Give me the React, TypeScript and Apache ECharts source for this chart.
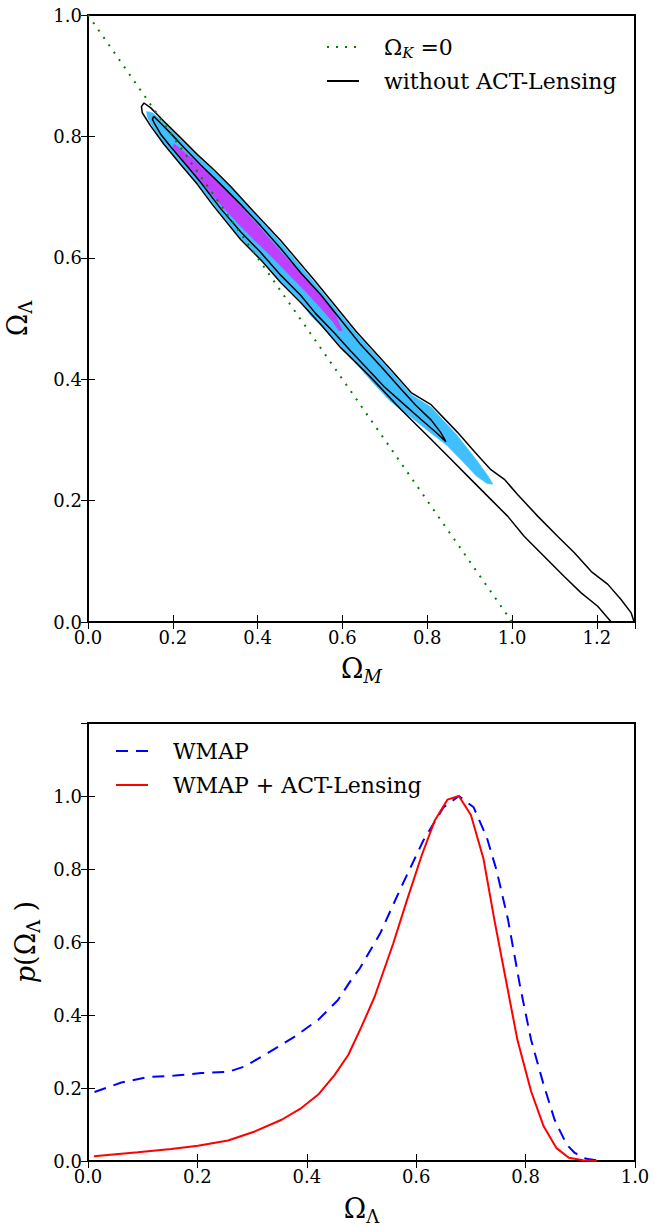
import React, { useEffect, useRef } from "react";
import * as echarts from "echarts";

// ---------------- Top panel data (Ω_M, Ω_Λ) ----------------
const flatUniverseLine: number[][] = [
  [0, 1],
  [1, 0],
];

// black contours: "without ACT-Lensing" (95% open at the axis, 68% closed)
const outerNoLensing: number[][] = [
  [1.234, 0.0], [1.202, 0.026], [1.163, 0.048], [1.123, 0.075], [1.076, 0.108], [1.029, 0.141],
  [0.99, 0.174], [0.95, 0.202], [0.903, 0.235], [0.856, 0.268], [0.809, 0.301], [0.738, 0.35],
  [0.667, 0.403], [0.596, 0.452], [0.549, 0.49], [0.502, 0.526], [0.455, 0.559], [0.407, 0.597],
  [0.36, 0.63], [0.293, 0.688], [0.258, 0.721], [0.218, 0.754], [0.179, 0.787], [0.148, 0.817],
  [0.128, 0.839], [0.126, 0.849], [0.132, 0.855], [0.148, 0.847], [0.179, 0.825], [0.218, 0.798],
  [0.258, 0.77], [0.297, 0.745], [0.336, 0.718], [0.391, 0.676], [0.455, 0.628], [0.533, 0.564],
  [0.632, 0.479], [0.714, 0.416], [0.762, 0.378], [0.809, 0.358], [0.872, 0.312], [0.911, 0.281],
  [0.95, 0.251], [0.982, 0.235], [1.013, 0.21], [1.061, 0.174], [1.108, 0.141], [1.147, 0.114],
  [1.187, 0.083], [1.226, 0.062], [1.257, 0.037], [1.281, 0.015], [1.288, 0.0],
];

const innerNoLensing: number[][] = [
  [0.155, 0.833], [0.171, 0.822], [0.195, 0.805], [0.23, 0.779], [0.266, 0.753], [0.313, 0.721],
  [0.36, 0.688], [0.407, 0.653], [0.455, 0.615], [0.502, 0.575], [0.549, 0.539], [0.596, 0.498],
  [0.643, 0.457], [0.691, 0.421], [0.738, 0.384], [0.773, 0.357], [0.809, 0.333], [0.832, 0.312],
  [0.844, 0.297], [0.823, 0.311], [0.785, 0.334], [0.738, 0.363], [0.698, 0.388], [0.655, 0.42],
  [0.62, 0.446], [0.58, 0.477], [0.537, 0.508], [0.502, 0.538], [0.455, 0.571], [0.407, 0.609],
  [0.36, 0.643], [0.313, 0.681], [0.266, 0.724], [0.23, 0.754], [0.195, 0.783], [0.171, 0.804],
  [0.157, 0.821], [0.152, 0.828], [0.155, 0.833],
];

// filled regions: with ACT-Lensing (95% cyan, 68% purple)
const lensing95: number[][] = [
  [0.138, 0.841], [0.152, 0.839], [0.183, 0.821], [0.218, 0.795], [0.259, 0.767], [0.299, 0.742],
  [0.339, 0.716], [0.391, 0.674], [0.455, 0.625], [0.532, 0.561], [0.632, 0.476], [0.714, 0.413],
  [0.762, 0.375], [0.809, 0.354], [0.87, 0.308], [0.915, 0.268], [0.943, 0.241], [0.955, 0.227],
  [0.941, 0.228], [0.915, 0.241], [0.884, 0.264], [0.846, 0.291], [0.809, 0.311], [0.762, 0.337],
  [0.714, 0.363], [0.667, 0.398], [0.62, 0.436], [0.573, 0.472], [0.525, 0.505], [0.502, 0.528],
  [0.455, 0.561], [0.407, 0.599], [0.36, 0.632], [0.294, 0.689], [0.259, 0.722], [0.218, 0.755],
  [0.178, 0.788], [0.152, 0.816], [0.14, 0.831],
];

const lensing68: number[][] = [
  [0.203, 0.788], [0.242, 0.766], [0.273, 0.746], [0.313, 0.721], [0.352, 0.691], [0.391, 0.661],
  [0.431, 0.629], [0.471, 0.597], [0.509, 0.569], [0.54, 0.545], [0.566, 0.525], [0.584, 0.505],
  [0.6, 0.48], [0.592, 0.48], [0.577, 0.495], [0.544, 0.521], [0.511, 0.546], [0.483, 0.566],
  [0.455, 0.586], [0.421, 0.61], [0.391, 0.63], [0.36, 0.652], [0.336, 0.67], [0.308, 0.691],
  [0.282, 0.713], [0.256, 0.733], [0.235, 0.751], [0.214, 0.77], [0.2, 0.783],
];

// ---------------- Bottom panel data: p(Ω_Λ) ----------------
const wmapX = [
  0.012, 0.061, 0.11, 0.159, 0.207, 0.256, 0.286, 0.329, 0.378, 0.421, 0.457, 0.481, 0.497, 0.534,
  0.57, 0.613, 0.65, 0.678, 0.705, 0.729, 0.747, 0.768, 0.79, 0.81, 0.832, 0.853, 0.875, 0.89, 0.911, 0.93,
];
const wmapP = [
  0.189, 0.215, 0.23, 0.234, 0.241, 0.244, 0.259, 0.296, 0.341, 0.387, 0.441, 0.496, 0.528, 0.623,
  0.742, 0.878, 0.969, 1.0, 0.969, 0.887, 0.796, 0.66, 0.478, 0.332, 0.214, 0.113, 0.045, 0.022, 0.006, 0.002,
];
const lensX = [
  0.011, 0.091, 0.152, 0.201, 0.256, 0.305, 0.354, 0.39, 0.421, 0.451, 0.476, 0.5, 0.524, 0.558,
  0.583, 0.61, 0.634, 0.657, 0.678, 0.7, 0.723, 0.743, 0.764, 0.785, 0.81, 0.833, 0.856, 0.879, 0.905, 0.93,
];
const lensP = [
  0.013, 0.024, 0.033, 0.042, 0.056, 0.081, 0.113, 0.145, 0.182, 0.236, 0.291, 0.368, 0.45, 0.596,
  0.714, 0.837, 0.933, 0.99, 1.0, 0.948, 0.828, 0.66, 0.496, 0.332, 0.191, 0.095, 0.036, 0.009, 0.002, 0.0,
];

const FONT = "DejaVu Serif";

const nameRich = {
  o: { fontFamily: FONT, fontSize: 27, color: "#000", lineHeight: 34, verticalAlign: "middle" },
  s: { fontFamily: FONT, fontSize: 18, color: "#000", lineHeight: 18, verticalAlign: "bottom" },
  si: { fontFamily: FONT, fontSize: 18, color: "#000", lineHeight: 18, verticalAlign: "bottom", fontStyle: "italic" },
  i: { fontFamily: FONT, fontSize: 27, color: "#000", lineHeight: 34, verticalAlign: "middle", fontStyle: "italic" },
};

const tick = { show: true, inside: true, length: 7, lineStyle: { color: "#000", width: 1 } };
const label = {
  show: true,
  fontFamily: FONT,
  fontSize: 18,
  color: "#000",
  margin: 6,
  showMaxLabel: false,
  formatter: (v: number) => v.toFixed(1),
};

function axis(gridIndex: number, position: string, max: number, withLabels: boolean, extra: any = {}) {
  return {
    type: "value",
    gridIndex,
    position,
    min: 0,
    max,
    interval: 0.2,
    axisLine: { show: false },
    axisTick: tick,
    splitLine: { show: false },
    axisLabel: withLabels ? label : { show: false },
    ...extra,
  };
}

function polygon(name: string, pts: number[][], fill: string) {
  return {
    type: "custom",
    name,
    xAxisIndex: 0,
    yAxisIndex: 0,
    data: pts,
    encode: { x: 0, y: 1 },
    silent: true,
    z: 1,
    renderItem: (params: any, api: any) => {
      if (params.dataIndex !== 0) return null;
      const points = pts.map((p) => api.coord(p));
      return { type: "polygon", shape: { points }, style: { fill, stroke: fill, lineWidth: 0.5 } };
    },
  };
}

const legendBase = {
  orient: "vertical",
  padding: 0,
  itemWidth: 32,
  itemHeight: 14,
  selectedMode: false,
  itemStyle: { opacity: 0, borderWidth: 0 },
};

const gridBase = {
  left: 88,
  width: 547,
  show: true,
  borderColor: "#000",
  borderWidth: 2,
  backgroundColor: "transparent",
  containLabel: false,
  outerBoundsMode: "none",
};

const option: any = {
  animation: false,
  backgroundColor: "#fff",
  textStyle: { fontFamily: FONT },
  grid: [
    { ...gridBase, top: 15, height: 607 },
    { ...gridBase, top: 723, height: 438 },
  ],
  xAxis: [
    axis(0, "bottom", 1.29, true, {
      name: "{o|Ω}{si|M}",
      nameLocation: "middle",
      nameGap: 29,
      nameTextStyle: { rich: nameRich },
    }),
    axis(0, "top", 1.29, false),
    axis(1, "bottom", 1.0, true, {
      name: "{o|Ω}{s|Λ}",
      nameLocation: "middle",
      nameGap: 30,
      nameTextStyle: { rich: nameRich },
      axisLabel: { ...label, showMaxLabel: true },
    }),
    axis(1, "top", 1.0, false),
  ],
  yAxis: [
    axis(0, "left", 1.0, true, {
      name: "{o|Ω}{s|Λ}",
      nameLocation: "middle",
      nameGap: 54,
      nameRotate: 90,
      nameTextStyle: { rich: nameRich },
      axisLabel: { ...label, showMaxLabel: true },
    }),
    axis(0, "right", 1.0, false),
    axis(1, "left", 1.2, true, {
      name: "{i|p}{o|(Ω}{s|Λ}{o| )}",
      nameLocation: "middle",
      nameGap: 38,
      nameRotate: 90,
      nameTextStyle: { rich: nameRich },
    }),
    axis(1, "right", 1.2, false),
  ],
  legend: [
    {
      ...legendBase,
      data: ["Ω_K =0", "without ACT-Lensing"],
      left: 326,
      top: 34,
      itemGap: 8,
      formatter: (n: string) => (n === "Ω_K =0" ? "{o|Ω}{s|K}{o| =0}" : n),
      textStyle: {
        fontFamily: FONT,
        fontSize: 22,
        color: "#000",
        lineHeight: 26,
        padding: [0, 0, 0, 20],
        rich: {
          o: { fontFamily: FONT, fontSize: 22, color: "#000", lineHeight: 26, verticalAlign: "middle" },
          s: { fontFamily: FONT, fontSize: 15, color: "#000", lineHeight: 14, verticalAlign: "bottom", fontStyle: "italic" },
        },
      },
    },
    {
      ...legendBase,
      data: ["WMAP", "WMAP + ACT-Lensing"],
      left: 115,
      top: 738,
      itemGap: 8,
      textStyle: { fontFamily: FONT, fontSize: 22, color: "#000", lineHeight: 26, padding: [0, 0, 0, 20] },
    },
  ],
  series: [
    polygon("lensing 95%", lensing95, "#40bfff"),
    polygon("lensing 68%", lensing68, "#bf40ff"),
    {
      type: "line",
      name: "without ACT-Lensing",
      xAxisIndex: 0,
      yAxisIndex: 0,
      data: outerNoLensing,
      symbol: "none",
      silent: true,
      z: 3,
      itemStyle: { color: "#000" },
      lineStyle: { color: "#000", width: 1.5 },
    },
    {
      type: "line",
      name: "without ACT-Lensing",
      xAxisIndex: 0,
      yAxisIndex: 0,
      data: innerNoLensing,
      symbol: "none",
      silent: true,
      z: 3,
      itemStyle: { color: "#000" },
      lineStyle: { color: "#000", width: 1.5 },
    },
    {
      type: "line",
      name: "Ω_K =0",
      xAxisIndex: 0,
      yAxisIndex: 0,
      data: flatUniverseLine,
      symbol: "none",
      silent: true,
      z: 4,
      itemStyle: { color: "#008000" },
      lineStyle: { color: "#008000", width: 2, type: [2, 7], cap: "butt" },
    },
    {
      type: "line",
      name: "WMAP",
      xAxisIndex: 2,
      yAxisIndex: 2,
      data: wmapX.map((x, i) => [x, wmapP[i]]),
      symbol: "none",
      silent: true,
      itemStyle: { color: "#0000ff" },
      lineStyle: { color: "#0000ff", width: 2, type: [12, 8] },
    },
    {
      type: "line",
      name: "WMAP + ACT-Lensing",
      xAxisIndex: 2,
      yAxisIndex: 2,
      data: lensX.map((x, i) => [x, lensP[i]]),
      symbol: "none",
      silent: true,
      itemStyle: { color: "#ff0000" },
      lineStyle: { color: "#ff0000", width: 2 },
    },
  ],
};

export default function App() {
  const ref = useRef<HTMLDivElement>(null);
  useEffect(() => {
    document.body.style.margin = "0";
    const chart = echarts.init(ref.current as HTMLDivElement, undefined, { renderer: "svg" });
    chart.setOption(option);
    return () => chart.dispose();
  }, []);
  return <div ref={ref} style={{ width: 654, height: 1226 }} />;
}
